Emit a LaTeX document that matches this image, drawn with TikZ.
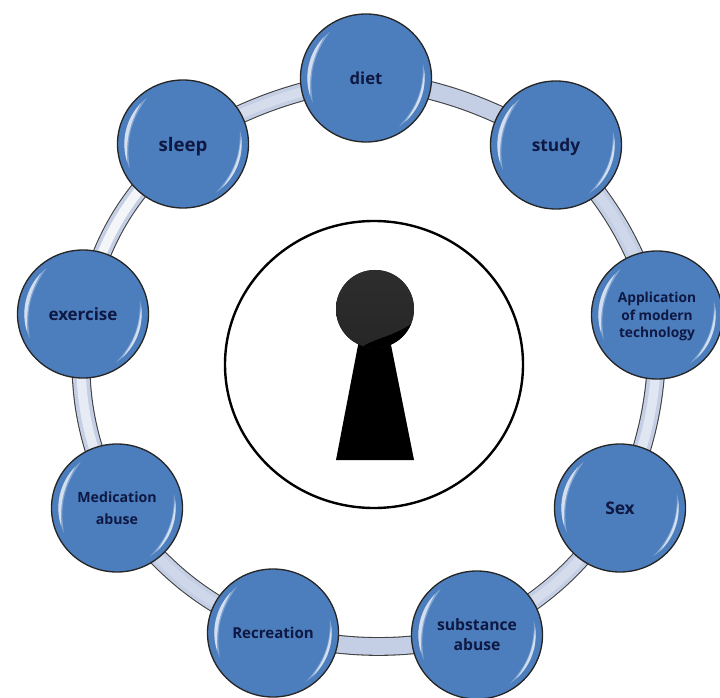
\documentclass[tikz,border=0pt]{standalone}
\usepackage{fontspec}
\setmainfont{Open Sans}
\usetikzlibrary{backgrounds,shapes.geometric}
\definecolor{ballblue}{RGB}{76,126,190}
\definecolor{bandfill}{RGB}{196,207,229}
\definecolor{inktext}{RGB}{14,24,66}
% one light crescent on a ball: start angle, end angle, opacity, bend
\newcommand{\glint}[4]{
  \path (path picture bounding box.center) ++(#1:44pt) coordinate (g);
  \fill[white,opacity=#3] (g) arc[start angle=#1,end angle=#2,radius=44pt] to[bend left=#4] (g);
}
\tikzset{
  ball/.style={ellipse,draw=black!85,line width=1pt,fill=ballblue,inner sep=0pt,
    minimum width=131*0.75pt,minimum height=128*0.75pt,align=center,text=inktext,text depth=0pt,
    font=\bfseries\fontsize{#1}{13}\selectfont,
    path picture={
      \glint{128}{205}{0.3}{22}
      \glint{136}{198}{0.65}{16}
      \glint{-56}{14}{0.3}{22}
      \glint{-48}{8}{0.65}{16}
    }},
  band/.style={draw=black!75,line width=0.8pt,double=bandfill,double distance=12.5pt},
  sheen/.style={white,line width=7pt}
}
\begin{document}
\begin{tikzpicture}[x=0.75pt,y=-0.75pt]
\useasboundingbox (0,0) rectangle (720,698);

\node[ball=12.5] (diet) at (366,78) {diet};
\node[ball=13] (study) at (556,145) {study};
\node[ball=10.3] (tech) at (657,315) {Application\\of modern\\technology};
\node[ball=13] (sex) at (620,508) {Sex};
\node[ball=11.8] (substance) at (477,635) {substance\\[2pt]abuse};
\node[ball=11.3] (recreation) at (273,633) {Recreation};
\node[ball=10.6] (medication) at (117,508) {Medication\\[4pt]abuse};
\node[ball=12.7] (exercise) at (83,314) {exercise};
\node[ball=14] (sleep) at (183,144) {sleep};

\begin{scope}[on background layer]
\foreach \from/\to/\bendby/\shine in {diet/study/11/0,study/tech/13/20,tech/sex/12/50,sex/substance/14/30,
  substance/recreation/12/0,recreation/medication/15/20,medication/exercise/15/60,
  exercise/sleep/17/80,sleep/diet/10/30}
{
  \draw[band] (\from.center) to[bend left=\bendby] (\to.center);
  \draw[sheen,opacity=\shine/100] (\from.center) to[bend left=\bendby] (\to.center);
}
\end{scope}

% lock in the middle
\node[ellipse,draw=black,line width=1.8pt,fill=white,minimum width=298*0.75pt,minimum height=287*0.75pt] (lock) at (374,364.5) {};
\fill[black] (359,340) -- (390,340) -- (414,460) -- (336,460) -- cycle;
\node[circle,fill=black,minimum size=78*0.75pt,inner sep=0pt] (hole) at (375,309) {};
\begin{scope}
\clip (375,309) circle[radius=39];
\shade[top color=black!82,middle color=black!68,bottom color=black!85]
  (330,265) rectangle (420,350);
\fill[black] (358,350) .. controls (372,338) and (392,338) .. (414,322) -- (420,352) -- cycle;
\end{scope}
\end{tikzpicture}
\end{document}
